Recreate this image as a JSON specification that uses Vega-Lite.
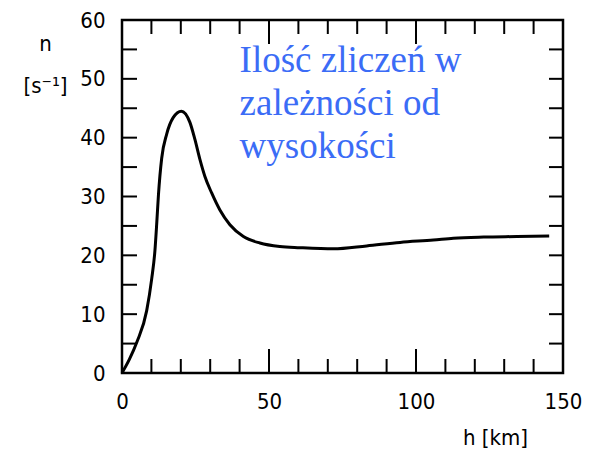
{
  "$schema": "https://vega.github.io/schema/vega-lite/v6.json",
  "width": 441,
  "height": 353,
  "autosize": "none",
  "padding": {"left": 122, "top": 20, "right": 28, "bottom": 78},
  "background": "white",
  "config": {
    "view": {"stroke": "black", "strokeWidth": 2.5},
    "axis": {
      "grid": false,
      "domain": false,
      "ticks": false,
      "labelColor": "black",
      "labelFont": "DejaVu Sans Condensed, DejaVu Sans",
      "labelFontSize": 22,
      "titleFont": "DejaVu Sans Condensed, DejaVu Sans",
      "titleFontSize": 22,
      "titleFontWeight": "normal",
      "titleColor": "black",
      "labelFlush": false,
      "labelOverlap": false
    }
  },
  "datasets": {
    "curve": [
      {"h": 0, "n": 0},
      {"h": 2.5, "n": 2.3},
      {"h": 5.1, "n": 5.3},
      {"h": 8.4, "n": 10.6},
      {"h": 10.1, "n": 16},
      {"h": 11.2, "n": 20.8},
      {"h": 11.8, "n": 25.3},
      {"h": 12.4, "n": 30.3},
      {"h": 13.5, "n": 36.5},
      {"h": 15.2, "n": 40.6},
      {"h": 17.4, "n": 43.4},
      {"h": 20.2, "n": 44.5},
      {"h": 23.1, "n": 42.6},
      {"h": 24.8, "n": 39.7},
      {"h": 26.5, "n": 36.3},
      {"h": 28.2, "n": 33.4},
      {"h": 30.5, "n": 30.6},
      {"h": 33.3, "n": 27.7},
      {"h": 36.7, "n": 25.2},
      {"h": 41.3, "n": 23.2},
      {"h": 46.9, "n": 22.1},
      {"h": 53.7, "n": 21.5},
      {"h": 60.5, "n": 21.3},
      {"h": 71.9, "n": 21.1},
      {"h": 83.2, "n": 21.6},
      {"h": 94.6, "n": 22.2},
      {"h": 105.9, "n": 22.6},
      {"h": 112.7, "n": 22.9},
      {"h": 123, "n": 23.1},
      {"h": 134.3, "n": 23.2},
      {"h": 145.3, "n": 23.3}
    ],
    "xminor": [
      {"h": 10}, {"h": 20}, {"h": 30}, {"h": 40}, {"h": 60}, {"h": 70}, {"h": 80},
      {"h": 90}, {"h": 110}, {"h": 120}, {"h": 130}, {"h": 140}
    ],
    "xmajor": [{"h": 50}, {"h": 100}],
    "yticks": [
      {"n": 5}, {"n": 10}, {"n": 15}, {"n": 20}, {"n": 25}, {"n": 30},
      {"n": 35}, {"n": 40}, {"n": 45}, {"n": 50}, {"n": 55}
    ],
    "note": [
      {"h": 40, "n": 51.2, "label": "Ilość zliczeń w\nzależności od\nwysokości"}
    ]
  },
  "resolve": {"axis": {"x": "independent", "y": "independent"}},
  "layer": [
    {
      "data": {"name": "curve"},
      "mark": {"type": "line", "color": "black", "strokeWidth": 3, "interpolate": "monotone"},
      "encoding": {
        "x": {
          "field": "h", "type": "quantitative",
          "scale": {"domain": [0, 150], "nice": false, "zero": false},
          "axis": {
            "orient": "bottom", "values": [0, 50, 100, 150],
            "labelPadding": 18, "title": "h [km]",
            "titleX": 373, "titleY": 64, "titleAlign": "center", "titleBaseline": "middle", "titleAnchor": null
          }
        },
        "y": {
          "field": "n", "type": "quantitative",
          "scale": {"domain": [0, 60], "nice": false, "zero": false},
          "axis": {
            "orient": "left", "values": [0, 10, 20, 30, 40, 50, 60],
            "labelPadding": 17, "labelBaseline": "middle",
            "title": ["n", "[s⁻¹]"], "titleAngle": 0, "titleX": -77, "titleY": 23,
            "titleAlign": "center", "titleBaseline": "middle", "titleLineHeight": 42, "titleAnchor": null
          }
        }
      }
    },
    {
      "data": {"name": "xminor"},
      "mark": {"type": "tick", "orient": "vertical", "size": 28, "thickness": 2, "color": "black", "opacity": 1, "clip": true},
      "encoding": {
        "x": {"field": "h", "type": "quantitative", "axis": null},
        "y": {"datum": 0, "type": "quantitative", "axis": null}
      }
    },
    {
      "data": {"name": "xminor"},
      "mark": {"type": "tick", "orient": "vertical", "size": 28, "thickness": 2, "color": "black", "opacity": 1, "clip": true},
      "encoding": {
        "x": {"field": "h", "type": "quantitative", "axis": null},
        "y": {"datum": 60, "type": "quantitative", "axis": null}
      }
    },
    {
      "data": {"name": "xmajor"},
      "mark": {"type": "tick", "orient": "vertical", "size": 48, "thickness": 2, "color": "black", "opacity": 1, "clip": true},
      "encoding": {
        "x": {"field": "h", "type": "quantitative", "axis": null},
        "y": {"datum": 0, "type": "quantitative", "axis": null}
      }
    },
    {
      "data": {"name": "xmajor"},
      "mark": {"type": "tick", "orient": "vertical", "size": 48, "thickness": 2, "color": "black", "opacity": 1, "clip": true},
      "encoding": {
        "x": {"field": "h", "type": "quantitative", "axis": null},
        "y": {"datum": 60, "type": "quantitative", "axis": null}
      }
    },
    {
      "data": {"name": "yticks"},
      "mark": {"type": "tick", "orient": "horizontal", "size": 30, "thickness": 2, "color": "black", "opacity": 1, "clip": true},
      "encoding": {
        "y": {"field": "n", "type": "quantitative", "axis": null},
        "x": {"datum": 0, "type": "quantitative", "axis": null}
      }
    },
    {
      "data": {"name": "yticks"},
      "mark": {"type": "tick", "orient": "horizontal", "size": 28, "thickness": 2, "color": "black", "opacity": 1, "clip": true},
      "encoding": {
        "y": {"field": "n", "type": "quantitative", "axis": null},
        "x": {"datum": 150, "type": "quantitative", "axis": null}
      }
    },
    {
      "data": {"name": "note"},
      "mark": {
        "type": "text", "align": "left", "baseline": "alphabetic", "lineBreak": "\n",
        "font": "Liberation Serif", "fontSize": 37, "lineHeight": 43, "color": "#3b6cf6"
      },
      "encoding": {
        "x": {"field": "h", "type": "quantitative", "axis": null},
        "y": {"field": "n", "type": "quantitative", "axis": null},
        "text": {"field": "label"}
      }
    }
  ]
}
